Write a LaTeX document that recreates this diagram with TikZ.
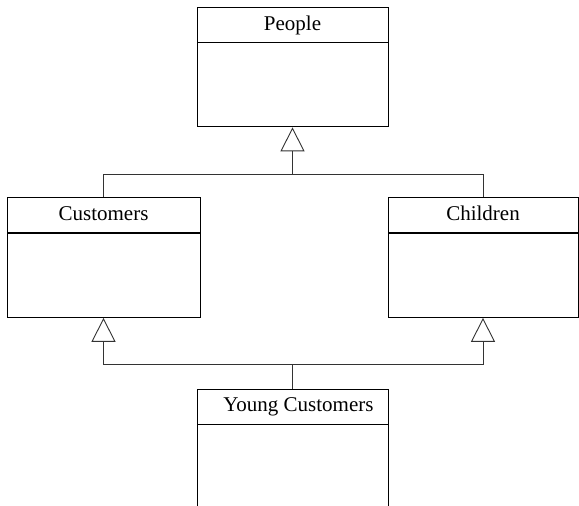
\documentclass[tikz,border=0pt]{standalone}
\usepackage{fontspec}
\setmainfont{Liberation Serif}
\usetikzlibrary{positioning}
\usetikzlibrary{arrows.meta}

\tikzset{
    classhead/.style={draw, line width=0.9pt, minimum width=191pt, minimum height=35pt, inner sep=0pt, text depth=3pt, font=\fontsize{21}{24}\selectfont},
    classbody/.style={draw, line width=0.9pt, minimum width=191pt, minimum height=84pt, inner sep=0pt},
    inherit/.style={-{Triangle[open, length=24pt, width=24pt]}, line width=0.9pt, draw=black!80},
    link/.style={line width=0.9pt, draw=black!80}
}

\begin{document}
\begin{tikzpicture}[x=1pt, y=-1pt, node distance=0pt]
    \useasboundingbox (0,0) rectangle (579,506);
    % classes
    \node[classhead] (people) at (292.5,24.5) {People};
    \node[classbody, below=of people] (peoplebody) {};
    \node[classhead, minimum width=193pt] (customers) at (103.5,215) {Customers};
    \node[classbody, minimum width=193pt, below=of customers] (customersbody) {};
    \node[classhead, minimum width=190pt] (children) at (483,215) {Children};
    \node[classbody, minimum width=190pt, below=of children] (childrenbody) {};
    \node[classhead] (young) at (292.5,406.5) {\hspace{12pt}Young Customers};
    \node[classbody, minimum height=120pt, below=of young] (youngbody) {};
    % generalisation
    \coordinate (topjoin) at (292.5,174);
    \coordinate (botjoin) at (292.5,364);
    \draw[link] (children.north) |- (topjoin);
    \draw[inherit] (customers.north) |- (topjoin) -- (peoplebody.south);
    \draw[link] (young.north) -- (botjoin);
    \draw[inherit] (botjoin) -| (customersbody.south);
    \draw[inherit] (botjoin) -| (childrenbody.south);
\end{tikzpicture}
\end{document}
